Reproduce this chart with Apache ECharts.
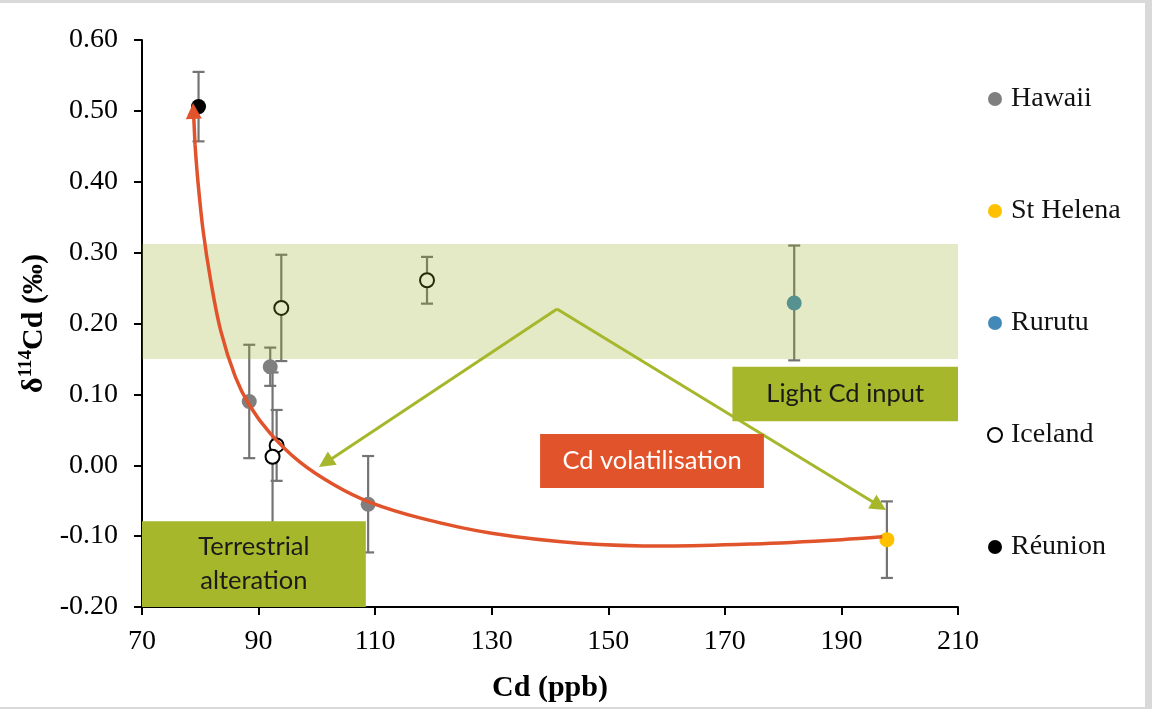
<!DOCTYPE html>
<html>
<head>
<meta charset="utf-8">
<script src="https://cdn.jsdelivr.net/npm/echarts@6/dist/echarts.min.js"></script>
<style>
  html, body { margin: 0; padding: 0; background: #d9d9d9; }
  #chart { position: absolute; left: 0; top: 3px; width: 1145px; height: 704px; background: #ffffff; }
</style>
</head>
<body>
<div id="chart"></div>
<script>
// Cd concentration (ppb), δ114Cd (‰) and 2SD for each island group
const hawaiiCd = [88.4, 92.0, 108.8];
const hawaiiD = [0.090, 0.139, -0.055];
const hawaiiErr = [0.080, 0.027, 0.068];

const stHelenaCd = [197.8];
const stHelenaD = [-0.105];
const stHelenaErr = [0.054];

const rurutuCd = [181.9];
const rurutuD = [0.229];
const rurutuErr = [0.081];

const icelandCd = [93.9, 118.9, 93.1, 92.4];
const icelandD = [0.222, 0.261, 0.028, 0.012];
const icelandErr = [0.075, 0.033, 0.050, 0.119];

const reunionCd = [79.7];
const reunionD = [0.506];
const reunionErr = [0.049];

const seriesNames = ['Hawaii', 'St Helena', 'Rurutu', 'Iceland', 'Réunion'];

// Axis ticks
const xTicks = { min: 70, max: 210, step: 20 };
const yTicks = { min: -0.2, max: 0.6, step: 0.1 };

// Shaded δ114Cd range (‰)
const bandCd = [70, 210];
const bandD = [0.150, 0.312];

// Cd volatilisation trend (Cd ppb, δ114Cd ‰)
const volatCurveCd = [197.0, 190.0, 175.0, 160.0, 145.0, 130.0, 118.0, 109.0, 103.0, 97.0, 92.0, 88.4, 86.0, 83.5, 81.8, 80.5, 79.6, 79.1];
const volatCurveD = [-0.101, -0.105, -0.111, -0.114, -0.110, -0.096, -0.075, -0.052, -0.028, 0.005, 0.045, 0.085, 0.125, 0.190, 0.260, 0.330, 0.400, 0.452];
const volatHeadCd = [79.1, 78.83];
const volatHeadD = [0.452, 0.500];

// Light Cd input arrows: shared origin, two heads
const inputOrigin = [141.2, 0.2205];
const inputHeadsCd = [101.5, 196.47];
const inputHeadsD = [0.0037, -0.0572];

// Annotation boxes: [Cd from, Cd to, δ from, δ to]
const boxLabels = ['Light Cd input', 'Cd volatilisation', 'Terrestrial\nalteration'];
const boxCdFrom = [171.3, 138.3, 70.0];
const boxCdTo = [210.0, 176.7, 108.4];
const boxDFrom = [0.062, -0.032, -0.200];
const boxDTo = [0.139, 0.044, -0.079];

const SERIF = '"Liberation Serif", "DejaVu Serif", serif';
const GREEN = '#a6b72b';
const ORANGE = '#e1532b';
const BAR_GREY = '#747474';

function zip3(a, b, c) { return a.map((v, i) => [v, b[i], c[i]]); }

// vertical 2SD whiskers with end caps
function errorBars(id, xs, ys, es) {
  return {
    type: 'custom',
    id: id,
    silent: true,
    z: 2,
    encode: { x: 0, y: 1 },
    data: zip3(xs, ys, es),
    renderItem: function (params, api) {
      const x = api.value(0), y = api.value(1), e = api.value(2);
      const top = api.coord([x, y + e]);
      const bot = api.coord([x, y - e]);
      const half = 6;
      const st = { stroke: BAR_GREY, lineWidth: 2.2 };
      return {
        type: 'group',
        children: [
          { type: 'line', shape: { x1: top[0], y1: top[1], x2: bot[0], y2: bot[1] }, style: st },
          { type: 'line', shape: { x1: top[0] - half, y1: top[1], x2: top[0] + half, y2: top[1] }, style: st },
          { type: 'line', shape: { x1: bot[0] - half, y1: bot[1], x2: bot[0] + half, y2: bot[1] }, style: st }
        ]
      };
    }
  };
}

function points(name, xs, ys, style, size) {
  return {
    type: 'scatter',
    name: name,
    z: 3,
    symbol: 'circle',
    symbolSize: size,
    itemStyle: Object.assign({ opacity: 1 }, style),
    emphasis: { disabled: true },
    data: xs.map((x, i) => [x, ys[i]])
  };
}

const chart = echarts.init(document.getElementById('chart'), null, { renderer: 'canvas' });

const option = {
  animation: false,
  backgroundColor: '#ffffff',
  grid: { left: 142, right: 187, top: 37, bottom: 100, containLabel: false, outerBoundsMode: 'none' },
  xAxis: {
    type: 'value',
    min: xTicks.min, max: xTicks.max, interval: xTicks.step,
    name: 'Cd (ppb)',
    nameLocation: 'middle',
    nameGap: 66,
    nameTextStyle: { fontFamily: SERIF, fontWeight: 'bold', fontSize: 30, color: '#000' },
    axisLine: { show: true, onZero: false, lineStyle: { color: '#000', width: 2 } },
    axisTick: { show: true, inside: false, length: 8, lineStyle: { color: '#000', width: 2 } },
    axisLabel: { margin: 21, fontFamily: SERIF, fontSize: 28, color: '#000' },
    splitLine: { show: false }
  },
  yAxis: {
    type: 'value',
    min: yTicks.min, max: yTicks.max, interval: yTicks.step,
    name: '{b|δ}{s|114}{b|Cd (‰)}',
    nameLocation: 'middle',
    nameGap: 85,
    nameRotate: 90,
    nameTextStyle: {
      fontFamily: SERIF, fontWeight: 'bold', fontSize: 30, color: '#000',
      rich: {
        b: { fontFamily: SERIF, fontWeight: 'bold', fontSize: 30, color: '#000', lineHeight: 32, verticalAlign: 'bottom' },
        s: { fontFamily: SERIF, fontWeight: 'bold', fontSize: 19, color: '#000', lineHeight: 19, verticalAlign: 'top' }
      }
    },
    axisLine: { show: true, onZero: false, lineStyle: { color: '#000', width: 2 } },
    axisTick: { show: true, inside: false, length: 8, lineStyle: { color: '#000', width: 2 } },
    axisLabel: {
      margin: 24, fontFamily: SERIF, fontSize: 28, color: '#000',
      formatter: v => v.toFixed(2)
    },
    splitLine: { show: false }
  },
  legend: {
    data: seriesNames,
    orient: 'vertical',
    left: 982,
    top: 77,
    icon: 'circle',
    itemWidth: 14,
    itemHeight: 14,
    itemGap: 84,
    selectedMode: false,
    textStyle: { fontFamily: SERIF, fontSize: 28, color: '#111', lineHeight: 28, padding: [0, 0, 0, 4] }
  },
  series: [
    errorBars('hawaiiErr', hawaiiCd, hawaiiD, hawaiiErr),
    errorBars('stHelenaErr', stHelenaCd, stHelenaD, stHelenaErr),
    errorBars('rurutuErr', rurutuCd, rurutuD, rurutuErr),
    errorBars('icelandErr', icelandCd, icelandD, icelandErr),
    errorBars('reunionErr', reunionCd, reunionD, reunionErr),
    points('Hawaii', hawaiiCd, hawaiiD, { color: '#7f7f7f' }, 15),
    points('St Helena', stHelenaCd, stHelenaD, { color: '#ffc000' }, 15),
    points('Rurutu', rurutuCd, rurutuD, { color: '#4389b7' }, 15),
    points('Iceland', icelandCd, icelandD, { color: '#ffffff', borderColor: '#000', borderWidth: 2 }, 14),
    points('Réunion', reunionCd, reunionD, { color: '#000000' }, 15),
    {
      // translucent δ114Cd range laid over the data
      type: 'custom',
      id: 'band',
      silent: true,
      z: 4,
      encode: { x: [0, 1], y: [2, 3] },
      data: [[bandCd[0], bandCd[1], bandD[0], bandD[1]]],
      renderItem: function (params, api) {
        const p1 = api.coord([api.value(0), api.value(3)]);
        const p2 = api.coord([api.value(1), api.value(2)]);
        return {
          type: 'rect',
          shape: { x: p1[0], y: p1[1], width: p2[0] - p1[0], height: p2[1] - p1[1] },
          style: { fill: 'rgba(147,171,27,0.25)' }
        };
      }
    },
    {
      type: 'line',
      id: 'volatCurve',
      silent: true,
      z: 6,
      smooth: 0.35,
      showSymbol: false,
      symbol: 'none',
      lineStyle: { color: ORANGE, width: 3.5 },
      data: volatCurveCd.map((x, i) => [x, volatCurveD[i]])
    },
    {
      type: 'lines',
      id: 'volatHead',
      coordinateSystem: 'cartesian2d',
      silent: true,
      z: 7,
      symbol: ['none', 'triangle'],
      symbolSize: 16,
      lineStyle: { color: ORANGE, width: 3.5, opacity: 1, curveness: 0 },
      data: [{ coords: [[volatHeadCd[0], volatHeadD[0]], [volatHeadCd[1], volatHeadD[1]]] }]
    },
    {
      type: 'lines',
      id: 'inputArrows',
      coordinateSystem: 'cartesian2d',
      silent: true,
      z: 7,
      symbol: ['none', 'triangle'],
      symbolSize: 16,
      lineStyle: { color: GREEN, width: 3, opacity: 1, curveness: 0 },
      data: inputHeadsCd.map((x, i) => ({ coords: [inputOrigin, [x, inputHeadsD[i]]] }))
    },
    {
      type: 'custom',
      id: 'boxes',
      silent: true,
      z: 8,
      encode: { x: [0, 1], y: [2, 3] },
      data: boxCdFrom.map((x, i) => [x, boxCdTo[i], boxDFrom[i], boxDTo[i]]),
      renderItem: function (params, api) {
        const i = params.dataIndex;
        const p1 = api.coord([api.value(0), api.value(3)]);
        const p2 = api.coord([api.value(1), api.value(2)]);
        const isOrange = i === 1;
        return {
          type: 'group',
          children: [
            {
              type: 'rect',
              shape: { x: p1[0], y: p1[1], width: p2[0] - p1[0], height: p2[1] - p1[1] },
              style: { fill: isOrange ? ORANGE : GREEN }
            },
            {
              type: 'text',
              x: (p1[0] + p2[0]) / 2,
              y: (p1[1] + p2[1]) / 2,
              style: {
                text: boxLabels[i],
                fill: isOrange ? '#ffffff' : '#1a1a1a',
                fontFamily: 'Lato, "Open Sans", sans-serif',
                fontSize: 25.5,
                lineHeight: 34,
                align: 'center',
                verticalAlign: 'middle'
              }
            }
          ]
        };
      }
    }
  ]
};

chart.setOption(option);
</script>
</body>
</html>
